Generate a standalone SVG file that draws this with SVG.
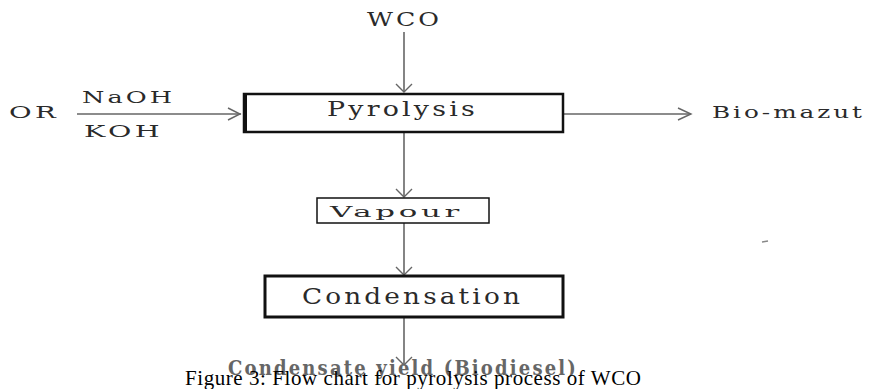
<svg xmlns="http://www.w3.org/2000/svg" width="869" height="389" viewBox="0 0 869 389">
<style>
.t{font-family:"DejaVu Serif","Liberation Serif",serif;fill:#2a2a2a;letter-spacing:0.12em;}
.box{fill:#fff;stroke:#111;}
.ln{stroke:#666;stroke-width:1.6;fill:none;}
.ah{stroke:#666;stroke-width:1.4;fill:none;}
</style>
<rect width="869" height="389" fill="#fff"/>
<g id="connectors">
<line class="ln" x1="404" y1="32" x2="404" y2="92"/>
<polyline class="ah" points="396,84 404,92 412,84"/>
<line class="ln" x1="77" y1="114" x2="241" y2="114"/>
<polyline class="ah" points="228,108 240,114 228,120"/>
<line class="ln" x1="563" y1="114" x2="691" y2="114"/>
<polyline class="ah" points="678,108 691,114 678,120"/>
<line class="ln" x1="404" y1="133" x2="404" y2="197"/>
<polyline class="ah" points="396,189 404,197 412,189"/>
<line class="ln" x1="404" y1="223" x2="404" y2="275"/>
<polyline class="ah" points="396,267 404,275 412,267"/>
<line class="ln" x1="404" y1="317" x2="404" y2="365"/>
<polyline class="ah" points="396,357 404,365 412,357"/>
</g>
<g id="wco"><text class="t" x="367" y="26" font-size="18" textLength="75" lengthAdjust="spacingAndGlyphs">WCO</text></g>
<g id="or"><text class="t" x="9" y="118" font-size="17" textLength="50" lengthAdjust="spacingAndGlyphs">OR</text></g>
<g id="naoh"><text class="t" x="82" y="103" font-size="16" textLength="93" lengthAdjust="spacingAndGlyphs">NaOH</text></g>
<g id="koh"><text class="t" x="84" y="137" font-size="16" textLength="79" lengthAdjust="spacingAndGlyphs">KOH</text></g>
<g id="pyrolysis">
<rect class="box" x="244" y="94" width="319" height="38" stroke-width="2.5"/>
<line x1="245" y1="93" x2="245" y2="133" stroke="#111" stroke-width="4"/>
<text class="t" x="327" y="116" font-size="21" textLength="151" lengthAdjust="spacingAndGlyphs">Pyrolysis</text>
</g>
<g id="biomazut"><text class="t" x="712" y="118" font-size="17" textLength="153" lengthAdjust="spacingAndGlyphs">Bio-mazut</text></g>
<g id="vapour">
<rect class="box" x="317" y="198" width="172" height="25" stroke-width="1.5" stroke="#333"/>
<text class="t" x="330" y="217" font-size="15" textLength="133" lengthAdjust="spacingAndGlyphs">Vapour</text>
</g>
<g id="condensation">
<rect class="box" x="265" y="276" width="298" height="41" stroke-width="3"/>
<text class="t" x="302" y="304" font-size="22" textLength="221" lengthAdjust="spacingAndGlyphs">Condensation</text>
</g>
<g id="yield"><text class="t" x="228" y="375" font-size="21" style="fill:#666;font-weight:bold" textLength="350" lengthAdjust="spacingAndGlyphs">Condensate yield (Biodiesel)</text></g>
<line x1="762" y1="242" x2="768" y2="241" stroke="#888" stroke-width="1.5"/>
<g id="caption"><text x="185" y="385" font-family="Liberation Serif,Times New Roman,serif" font-size="21" fill="#000" textLength="456" lengthAdjust="spacing">Figure 3: Flow chart for pyrolysis process of WCO</text></g>
</svg>
